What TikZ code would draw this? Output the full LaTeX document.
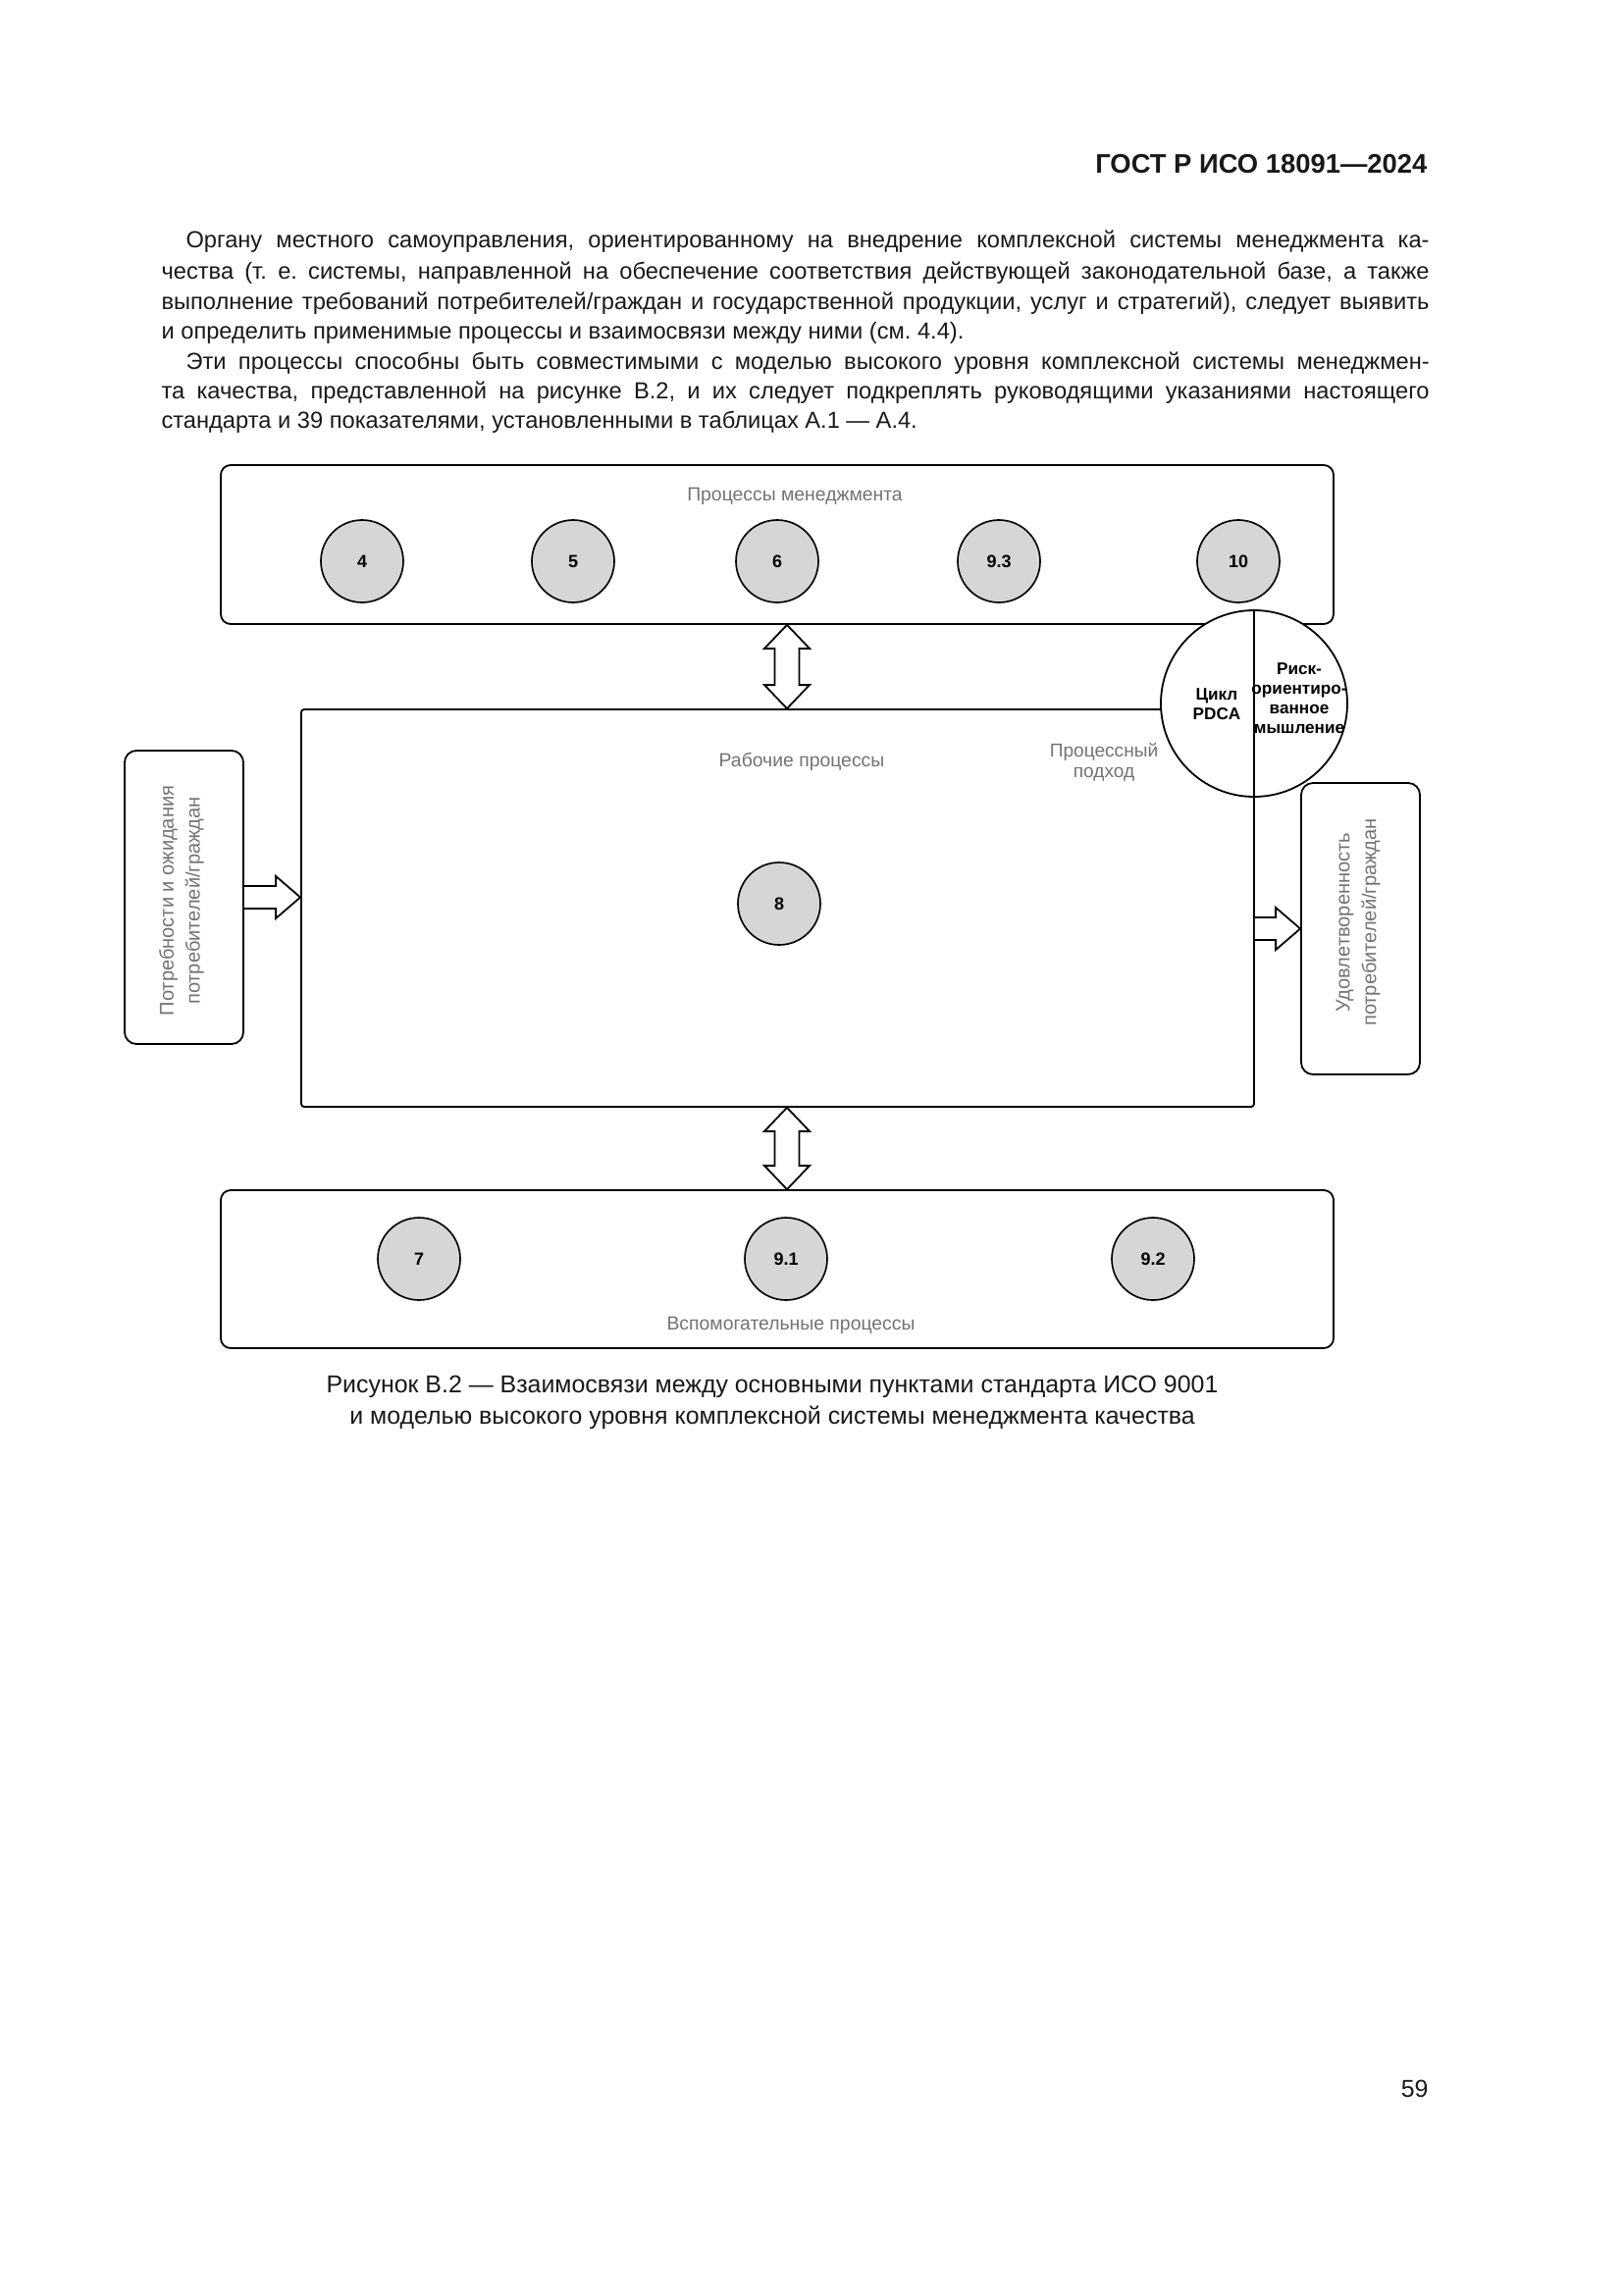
\documentclass[tikz,border=0pt]{standalone}
\usepackage{fontspec}
\setmainfont{Liberation Sans}
\usetikzlibrary{calc}
\frenchspacing
\newlength\px
\setlength\px{0.126965mm}
\definecolor{circfill}{RGB}{214,214,214}
\definecolor{labelgray}{RGB}{115,115,115}
\definecolor{bodyblack}{RGB}{25,25,25}
\tikzset{
  box/.style={draw, line width=0.65pt, rounded corners=10\px, inner sep=0pt},
  sidebox/.style={draw, line width=0.65pt, rounded corners=12\px, inner sep=0pt},
  proc/.style={circle, draw, line width=0.6pt, fill=circfill, minimum size=84\px, inner sep=0pt,
    font=\fontsize{6.5}{7}\selectfont\bfseries},
  lbl/.style={text=labelgray, font=\fontsize{7}{8}\selectfont, inner sep=0pt, anchor=base},
  body/.style={font=\fontsize{8.55}{10}\selectfont\frenchspacing, inner sep=0pt, anchor=base west, text=bodyblack},
  captext/.style={font=\fontsize{9}{10.5}\selectfont, inner sep=0pt, anchor=base, text=bodyblack},
  ctext/.style={font=\fontsize{6.2}{7.2}\selectfont\bfseries, inner sep=0pt, align=center},
  sidetext/.style={text=labelgray, font=\fontsize{7.25}{9.7}\selectfont, inner sep=0pt, align=center, rotate=90},
  fat/.style={draw, line width=0.65pt, fill=white, line join=miter},
}
\begin{document}
\begin{tikzpicture}[x=\px, y=-\px]
\useasboundingbox[fill=white] (0,0) rectangle (1654,2339);

% header
\node[font=\fontsize{9.9}{11}\selectfont\bfseries, inner sep=0pt, anchor=base east, text=bodyblack] (hdr) at (1455,176) {ГОСТ Р ИСО 18091—2024};

% body text
\node[body] (t1) at (189,253) {\makebox[1267\px][s]{Органу местного самоуправления, ориентированному на внедрение комплексной системы менеджмента ка-}};
\node[body] (t2) at (164,284) {\makebox[1292\px][s]{чества (т. е. системы, направленной на обеспечение соответствия действующей законодательной базе, а также}};
\node[body] (t3) at (164,315) {\makebox[1292\px][s]{выполнение требований потребителей/граждан и государственной продукции, услуг и стратегий), следует выявить}};
\node[body] (t4) at (164,345) {и определить применимые процессы и взаимосвязи между ними (см. 4.4).};
\node[body] (t5) at (189,376) {\makebox[1267\px][s]{Эти процессы способны быть совместимыми с моделью высокого уровня комплексной системы менеджмен-}};
\node[body] (t6) at (164,406) {\makebox[1292\px][s]{та качества, представленной на рисунке В.2, и их следует подкреплять руководящими указаниями настоящего}};
\node[body] (t7) at (164,436) {стандарта и 39 показателями, установленными в таблицах А.1 — А.4.};

% management processes box
\node[box, minimum width=1134\px, minimum height=162\px] (mgmt) at (792,555) {};
\node[lbl] (mgmtlbl) at (810,510) {Процессы менеджмента};
\node[proc] (p4) at (369,572) {4};
\node[proc] (p5) at (584,572) {5};
\node[proc] (p6) at (792,572) {6};
\node[proc] (p93) at (1018,572) {9.3};
\node[proc] (p10) at (1262,572) {10};

% work processes box
\node[draw, line width=0.65pt, rounded corners=3\px, inner sep=0pt, minimum width=971\px, minimum height=405\px] (work) at (792.5,925.5) {};
\node[lbl] (worklbl) at (817,781) {Рабочие процессы};
\node[proc] (p8) at (794,921) {8};
\node[text=labelgray, font=\fontsize{6.9}{7.6}\selectfont, inner sep=0pt, align=center] (approach) at (1125,777) {Процессный\\подход};

% support processes box
\node[box, minimum width=1134\px, minimum height=161\px] (supp) at (792,1293.5) {};
\node[lbl] (supplbl) at (806,1355) {Вспомогательные процессы};
\node[proc] (p7) at (427,1283) {7};
\node[proc] (p91) at (801,1283) {9.1};
\node[proc] (p92) at (1175,1283) {9.2};

% PDCA / risk circle
\node[circle, draw, line width=0.65pt, fill=white, minimum size=190\px, inner sep=0pt] (pdca) at (1278,717) {};
\draw[line width=0.65pt] (pdca.north) -- (pdca.south);
\node[ctext] (pdcatxt) at (1240,718) {Цикл\\PDCA};
\node[ctext] (risktxt) at (1324,712) {Риск-\\ориентиро-\\ванное\\мышление};

% side boxes
\node[sidebox, minimum width=121\px, minimum height=299\px] (needs) at (187.5,914.5) {};
\node[sidetext] (needstxt) at (185,918) {Потребности и ожидания\\потребителей/граждан};
\node[sidebox, minimum width=121\px, minimum height=297\px] (satis) at (1386.5,946.5) {};
\node[sidetext] (satistxt) at (1384,940) {Удовлетворенность\\потребителей/граждан};

% axis for vertical arrows
\coordinate (ax) at (802,0);

% top double arrow
\draw[fat] let \p1=(mgmt.south -| ax), \p2=(work.north -| ax) in
  (\x1,\y1) -- (\x1+23\px,\y1-24\px) -- (\x1+12.5\px,\y1-24\px) -- (\x1+12.5\px,\y2+24\px)
  -- (\x1+23\px,\y2+24\px) -- (\x1,\y2) -- (\x1-23\px,\y2+24\px) -- (\x1-12.5\px,\y2+24\px)
  -- (\x1-12.5\px,\y1-24\px) -- (\x1-23\px,\y1-24\px) -- cycle;

% bottom double arrow
\draw[fat] let \p1=(work.south -| ax), \p2=(supp.north -| ax) in
  (\x1,\y1) -- (\x1+23\px,\y1-24\px) -- (\x1+12.5\px,\y1-24\px) -- (\x1+12.5\px,\y2+24\px)
  -- (\x1+23\px,\y2+24\px) -- (\x1,\y2) -- (\x1-23\px,\y2+24\px) -- (\x1-12.5\px,\y2+24\px)
  -- (\x1-12.5\px,\y1-24\px) -- (\x1-23\px,\y1-24\px) -- cycle;

% input arrow
\draw[fat] let \p1=(needs.east), \p2=(needs.east -| work.west) in
  (\x1,\y1+11.5\px) -- (\x2-25\px,\y1+11.5\px) -- (\x2-25\px,\y1+21.5\px) -- (\x2,\y1)
  -- (\x2-25\px,\y1-21.5\px) -- (\x2-25\px,\y1-11.5\px) -- (\x1,\y1-11.5\px);

% output arrow
\draw[fat] let \p1=(satis.west -| work.east), \p2=(satis.west) in
  (\x1,\y1+11.5\px) -- (\x2-25\px,\y1+11.5\px) -- (\x2-25\px,\y1+21.5\px) -- (\x2,\y1)
  -- (\x2-25\px,\y1-21.5\px) -- (\x2-25\px,\y1-11.5\px) -- (\x1,\y1-11.5\px);

% caption
\node[captext] (cap1) at (787,1419) {Рисунок В.2 — Взаимосвязи между основными пунктами стандарта ИСО 9001};
\node[captext] (cap2) at (787,1451) {и моделью высокого уровня комплексной системы менеджмента качества};

% page number
\node[font=\fontsize{9}{10.5}\selectfont, inner sep=0pt, anchor=base east, text=bodyblack] (pgno) at (1456,2137) {59};
\end{tikzpicture}
\end{document}
